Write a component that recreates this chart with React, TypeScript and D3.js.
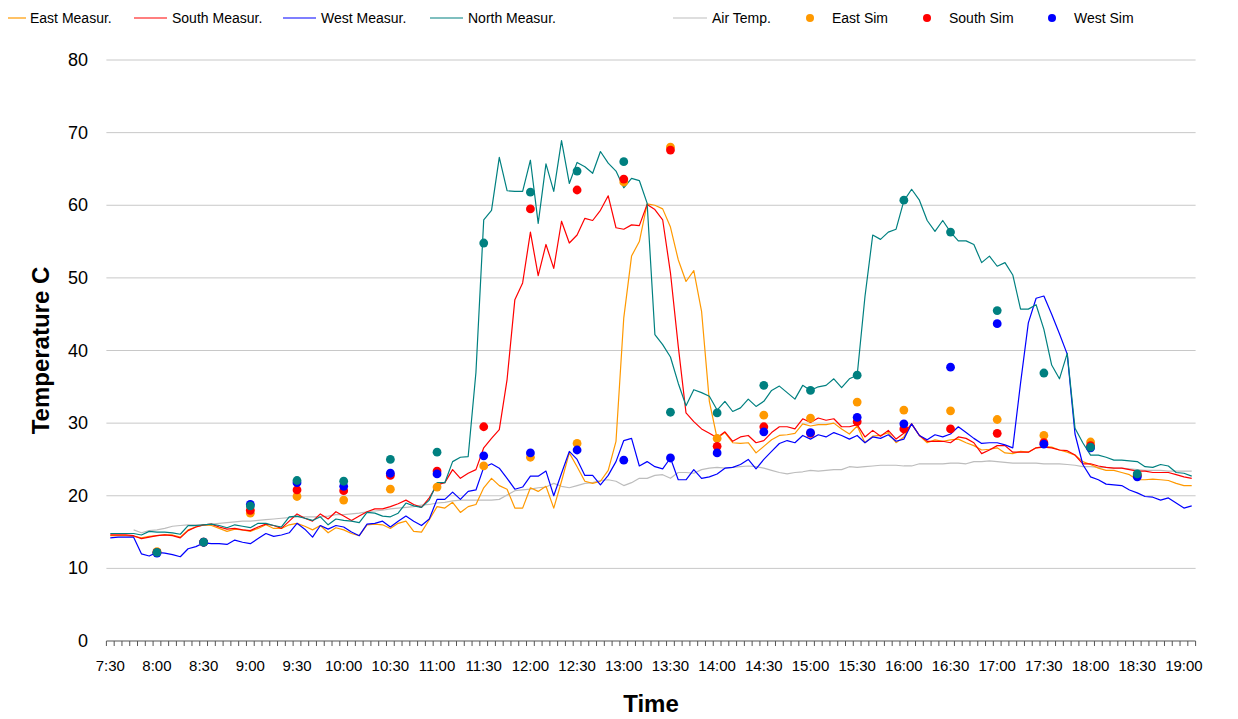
import React from 'react';
import * as d3 from 'd3';

const START_MIN = 7 * 60 + 30;
const N_CAT = 140;
const categories: string[] = d3.range(N_CAT).map((i) => {
  const m = START_MIN + 5 * i;
  return `${Math.floor(m / 60)}:${String(m % 60).padStart(2, '0')}`;
});

const tickLabels = ["7:30","8:00","8:30","9:00","9:30","10:00","10:30","11:00","11:30","12:00","12:30","13:00","13:30","14:00","14:30","15:00","15:30","16:00","16:30","17:00","17:30","18:00","18:30","19:00"];
const yTicks = [0, 10, 20, 30, 40, 50, 60, 70, 80];

const eastMeasured = [
14.5,14.5,14.5,14.4,14.2,14.4,14.5,14.6,14.6,14.3,
15.3,15.7,16.0,15.9,15.5,15.1,15.4,15.3,15.1,15.5,
16.0,15.5,15.5,16.0,16.2,15.8,15.3,15.9,14.9,15.6,
15.3,14.8,14.5,16.0,16.1,16.0,15.5,16.2,16.5,15.1,
15.0,16.7,18.5,18.3,19.1,17.7,18.5,18.8,21.1,22.4,
21.4,20.9,18.3,18.3,21.1,20.6,21.3,18.3,22.0,25.9,
24.0,22.0,21.7,22.0,23.5,27.5,44.5,53.0,55.0,60.2,
60.0,59.5,57.0,52.5,49.5,51.0,45.4,33.0,27.9,28.7,
27.3,27.2,27.3,25.9,26.8,27.7,28.3,28.4,28.6,29.9,
29.6,29.8,29.8,30.0,29.2,28.5,29.6,27.3,28.2,28.3,
28.7,27.3,28.1,29.9,28.3,27.3,27.7,27.5,27.7,27.8,
27.3,26.9,26.3,26.4,26.6,25.9,25.8,26.1,26.0,26.6,
26.8,26.7,26.3,26.0,25.6,24.7,24.3,23.8,23.5,23.5,
23.2,22.9,22.2,22.2,22.3,22.2,22.1,21.7,21.4,21.4];

const southMeasured = [
14.6,14.6,14.6,14.5,14.1,14.3,14.5,14.6,14.5,14.2,
15.2,15.7,16.0,16.1,15.7,15.4,15.5,15.3,15.2,15.7,
16.1,15.9,15.5,16.5,17.5,16.9,16.5,17.5,16.8,17.8,
17.2,16.6,17.2,17.8,18.2,18.2,18.5,18.9,19.4,18.8,
18.4,19.7,21.5,21.8,23.6,22.4,23.1,23.6,26.6,27.9,
29.1,36.0,47.0,49.3,56.3,50.3,54.6,51.3,57.8,54.8,
55.9,58.2,57.9,59.3,61.3,56.9,56.7,57.3,57.2,60.1,
59.4,58.0,50.7,40.6,31.4,30.2,29.2,28.6,28.0,28.8,
27.5,28.1,28.3,27.3,27.6,28.7,29.5,29.5,29.2,30.6,
30.1,30.7,30.4,30.6,29.5,29.5,29.8,28.1,29.0,28.2,
29.0,27.8,28.6,29.9,28.3,27.5,27.5,27.5,27.3,28.1,
27.9,27.3,25.8,26.3,26.9,26.9,26.0,26.0,26.0,26.6,
26.7,26.6,26.3,26.2,25.6,24.4,24.4,24.1,23.9,23.8,
23.8,23.6,23.4,23.4,23.2,23.2,23.2,22.9,22.6,22.4];

const westMeasured = [
14.2,14.3,14.3,14.3,12.0,11.7,12.2,12.1,11.9,11.6,
12.7,13.0,13.5,13.4,13.4,13.3,13.9,13.6,13.4,14.1,
14.8,14.4,14.6,14.9,16.2,15.4,14.3,15.9,15.4,15.9,
15.7,15.0,14.5,16.1,16.2,16.5,15.7,16.5,17.2,16.5,
15.9,16.8,19.5,19.5,20.5,19.5,20.6,20.8,23.9,24.4,
23.8,22.4,20.9,21.2,22.7,22.7,23.4,20.0,23.1,26.1,
25.0,22.8,22.8,21.5,22.8,24.7,27.6,27.9,24.1,24.7,
24.0,23.7,25.2,22.2,22.2,23.6,22.4,22.6,23.0,23.8,
23.9,24.3,25.0,23.7,25.0,26.1,27.2,27.6,27.3,28.3,
27.8,28.4,28.1,28.7,28.3,27.8,28.3,27.3,28.1,27.9,
28.4,27.5,27.8,29.9,28.3,27.7,28.4,28.1,28.5,29.5,
28.7,27.9,27.2,27.3,27.3,27.0,26.6,35.5,43.8,47.2,
47.5,45.0,42.3,39.5,28.5,24.3,22.6,22.2,21.6,21.5,
21.4,20.8,20.4,19.9,19.8,19.4,19.7,19.0,18.3,18.6];

const northMeasured = [
14.8,14.8,14.8,14.8,14.6,15.1,15.0,15.0,14.9,14.7,
15.9,15.9,16.0,16.1,15.9,15.6,16.0,15.8,15.6,16.2,
16.2,15.9,15.7,17.1,17.2,16.9,16.6,17.1,16.0,16.8,
16.6,16.5,16.3,17.7,17.6,17.2,17.1,17.6,19.0,18.6,
18.4,19.4,21.8,21.8,24.7,25.3,25.4,37.0,58.0,59.3,
66.6,62.0,61.9,61.9,66.2,57.5,65.7,61.9,68.9,63.0,
65.9,65.3,64.4,67.4,65.8,64.7,62.4,63.7,63.4,60.3,
42.2,40.8,39.1,35.5,32.4,34.6,34.2,33.7,31.8,33.0,
31.6,32.1,33.3,32.3,33.0,34.5,35.1,34.2,33.3,35.2,
34.5,35.0,35.2,36.1,34.9,36.1,36.6,47.4,55.9,55.3,
56.3,56.7,60.6,62.2,60.7,57.9,56.4,57.9,56.3,55.1,
55.1,54.6,52.1,53.0,51.6,52.1,50.4,45.7,45.7,46.3,
42.9,38.0,36.1,39.6,29.3,27.3,25.6,25.6,25.3,24.9,
24.9,24.8,24.7,24.0,23.9,24.3,24.1,23.2,23.1,22.7];

const airTemp: (number | null)[] = [
null,null,null,15.3,14.9,15.2,15.3,15.5,15.8,15.9,
16.0,16.0,16.0,16.1,16.2,16.3,16.4,16.5,16.5,16.6,
16.7,16.8,16.9,17.0,17.1,17.1,17.1,17.1,17.2,17.4,
17.4,17.5,17.6,17.8,17.9,18.0,18.2,18.3,18.4,18.5,
18.7,18.8,19.0,19.1,19.3,19.4,19.4,19.4,19.4,19.4,
19.5,20.1,20.7,20.8,20.9,21.1,21.2,21.7,21.3,21.1,
21.4,21.7,21.8,22.1,22.2,22.0,21.4,21.8,22.4,22.4,
22.8,22.9,22.4,23.2,23.2,23.1,23.6,23.8,23.9,23.8,
23.9,24.0,24.1,24.0,23.8,23.5,23.2,23.0,23.2,23.3,
23.5,23.4,23.5,23.6,23.6,24.0,23.9,24.0,24.1,24.2,
24.2,24.2,24.1,24.1,24.4,24.4,24.4,24.4,24.5,24.5,
24.4,24.7,24.7,24.8,24.7,24.6,24.5,24.5,24.5,24.5,
24.4,24.4,24.4,24.3,24.2,24.0,24.0,23.9,23.9,23.8,
23.8,23.7,23.6,23.5,23.5,23.5,23.4,23.4,23.4,23.4];

const simTimes = ["8:00","8:30","9:00","9:30","10:00","10:30","11:00","11:30","12:00","12:30","13:00","13:30","14:00","14:30","15:00","15:30","16:00","16:30","17:00","17:30","18:00","18:30"];
const eastSim  = [12.3,13.6,17.6,19.9,19.4,20.9,21.2,24.1,25.3,27.2,63.2,68.0,27.9,31.1,30.7,32.9,31.8,31.7,30.5,28.3,27.4,22.9];
const southSim = [12.2,13.6,18.0,20.8,20.7,22.8,23.4,29.5,59.5,62.1,63.6,67.6,26.8,29.5,28.6,30.2,29.2,29.2,28.6,27.3,26.9,22.8];
const westSim  = [12.1,13.6,18.8,21.8,21.3,23.1,23.0,25.5,25.9,26.3,24.9,25.2,25.9,28.8,28.7,30.8,29.9,37.7,43.7,27.1,26.6,22.6];
const northSim = [12.2,13.6,18.6,22.1,22.0,25.0,26.0,54.8,61.8,64.7,66.0,31.5,31.4,35.2,34.5,36.6,60.7,56.3,45.5,36.9,26.7,23.0];

const C_EAST = '#FF9900';
const C_SOUTH = '#FF0000';
const C_WEST = '#0000FF';
const C_NORTH = '#008080';
const C_AIR = '#BDBDBD';

const FONT = 'Liberation Sans, Arial, sans-serif';

export default function App() {
  const W = 1238, H = 719;
  const left = 106.4, right = 1195.6, top = 60, bottom = 641;

  const x = d3.scaleBand<string>().domain(categories).range([left, right]).paddingInner(0).paddingOuter(0);
  const bw = x.bandwidth();
  const cx = (c: string) => (x(c) as number) + bw / 2;
  const y = d3.scaleLinear().domain([0, 80]).range([bottom, top]);

  const lineGen = d3.line<number | null>()
    .defined((d) => d !== null)
    .x((_, i) => cx(categories[i]))
    .y((d) => y(d as number));

  const measured = [
    { data: airTemp, color: C_AIR },
    { data: eastMeasured, color: C_EAST },
    { data: southMeasured, color: C_SOUTH },
    { data: westMeasured, color: C_WEST },
    { data: northMeasured, color: C_NORTH },
  ];
  const sims = [
    { data: eastSim, color: C_EAST },
    { data: southSim, color: C_SOUTH },
    { data: westSim, color: C_WEST },
    { data: northSim, color: C_NORTH },
  ];

  const legendLines = [
    { label: 'East Measur.', color: C_EAST, x1: 8, x2: 26, tx: 30 },
    { label: 'South Measur.', color: C_SOUTH, x1: 134, x2: 167, tx: 172 },
    { label: 'West Measur.', color: C_WEST, x1: 283, x2: 316, tx: 321 },
    { label: 'North Measur.', color: C_NORTH, x1: 430, x2: 463, tx: 468 },
    { label: 'Air Temp.', color: C_AIR, x1: 673, x2: 707, tx: 712 },
  ];
  const legendDots = [
    { label: 'East Sim', color: C_EAST, cx: 810, tx: 832 },
    { label: 'South Sim', color: C_SOUTH, cx: 927, tx: 949 },
    { label: 'West Sim', color: C_WEST, cx: 1052, tx: 1074 },
  ];

  const tickPositions = d3.range(N_CAT + 1).map((k) => left + k * bw);

  return (
    <svg width={W} height={H} style={{ position: 'absolute', left: 0, top: 0, background: '#fff' }} fontFamily={FONT}>
      <rect x={0} y={0} width={W} height={H} fill="#fff" />
      {/* legend */}
      {legendLines.map((l) => (
        <g key={l.label}>
          <line x1={l.x1} x2={l.x2} y1={18} y2={18} stroke={l.color} strokeWidth={1.2} />
          <text x={l.tx} y={23} fontSize={14} fill="#000">{l.label}</text>
        </g>
      ))}
      {legendDots.map((l) => (
        <g key={l.label}>
          <circle cx={l.cx} cy={18} r={4} fill={l.color} />
          <text x={l.tx} y={23} fontSize={14} fill="#000">{l.label}</text>
        </g>
      ))}

      {/* gridlines */}
      {yTicks.filter((t) => t !== 0).map((t) => (
        <line key={t} x1={left} x2={right} y1={y(t)} y2={y(t)} stroke="#C8C8C8" strokeWidth={1} />
      ))}
      {/* y labels */}
      {yTicks.map((t) => (
        <text key={t} x={88} y={y(t) + 6} fontSize={18} textAnchor="end" fill="#000">{t}</text>
      ))}

      {/* measured lines */}
      {measured.map((s, k) => (
        <path key={k} d={lineGen(s.data) || ''} fill="none" stroke={s.color} strokeWidth={1.2} strokeLinejoin="round" />
      ))}

      {/* sim dots */}
      {sims.map((s, k) => (
        <g key={k}>
          {s.data.map((v, i) => (
            <circle key={i} cx={cx(simTimes[i])} cy={y(v)} r={4.4} fill={s.color} />
          ))}
        </g>
      ))}

      {/* x axis */}
      <line x1={left} x2={right} y1={bottom} y2={bottom} stroke="#555" strokeWidth={1.2} />
      {tickPositions.map((p, k) => (
        <line key={k} x1={p} x2={p} y1={bottom} y2={bottom + 5} stroke="#555" strokeWidth={1} />
      ))}
      {tickLabels.map((t) => (
        <text key={t} x={cx(t)} y={671} fontSize={15} textAnchor="middle" fill="#000">{t}</text>
      ))}

      {/* axis titles */}
      <text x={(left + right) / 2} y={712} fontSize={24} fontWeight="bold" textAnchor="middle" fill="#000">Time</text>
      <text transform={`translate(49, ${(top + bottom) / 2}) rotate(-90)`} fontSize={24} fontWeight="bold" textAnchor="middle" fill="#000">Temperature C</text>
    </svg>
  );
}
